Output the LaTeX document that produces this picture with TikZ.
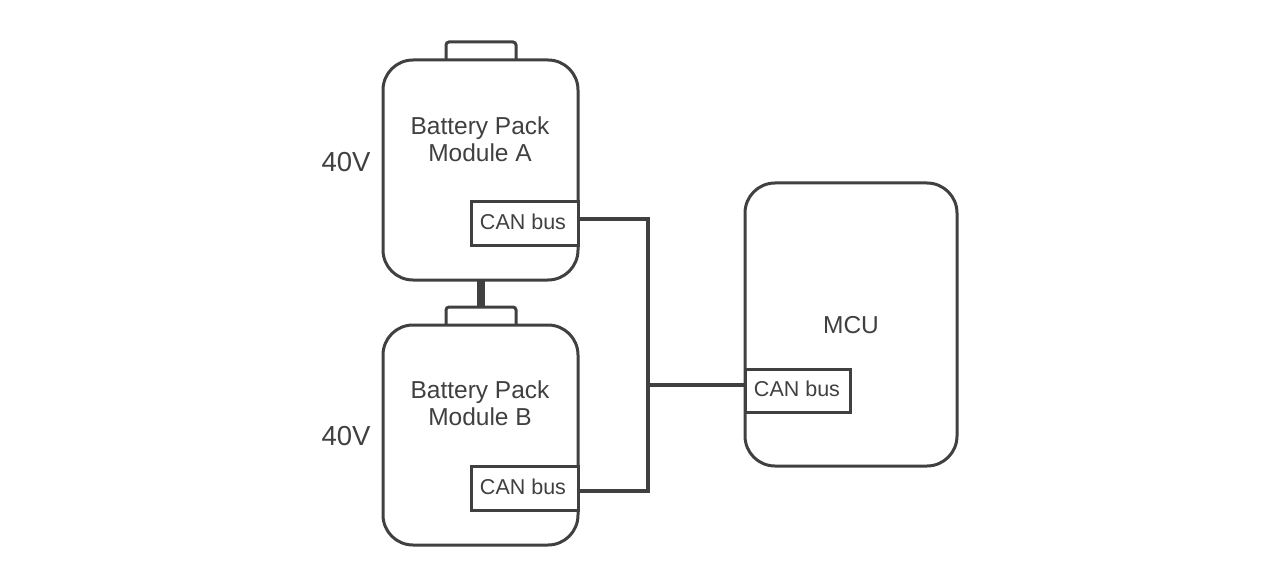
\documentclass[tikz,border=0pt]{standalone}
\usepackage{fontspec}
\setmainfont{Liberation Sans}
\definecolor{ink}{HTML}{404040}
\begin{document}
\begin{tikzpicture}[x=1pt,y=-1pt,
  line width=3pt, draw=ink, text=ink,
  body/.style={draw=ink, rounded corners=30pt, line width=3pt},
  term/.style={draw=ink, rounded corners=3pt, line width=3pt},
  canbox/.style={draw=ink, line width=3pt, fill=white},
  bus/.style={draw=ink, line width=3.6pt},
  lbl/.style={font=\fontsize{24.5}{27}\selectfont, align=center, text=ink},
  canlbl/.style={font=\fontsize{21.5}{24}\selectfont, text=ink},
  volt/.style={font=\fontsize{27.5}{30}\selectfont, text=ink}]
\useasboundingbox (0,0) rectangle (1284,588);
% Battery A
\draw[term] (446,60) -- (446,42) -- (516,42) -- (516,60);
\draw[body] (383,60) rectangle (578,280);
\node[lbl] (labA) at (480,139) {Battery Pack\\Module A};
\node[volt] (vA) at (346,162) {40V};
% Battery B
\draw[term] (446,325) -- (446,307) -- (516,307) -- (516,325);
\draw[body] (383,325) rectangle (578,545);
\node[lbl] (labB) at (480,403) {Battery Pack\\Module B};
\node[volt] (vB) at (346,436) {40V};
% link between packs
\coordinate (ab1) at (481,280);
\coordinate (ab2) at (481,307);
\draw[draw=ink, line width=8pt] (ab1) -- (ab2);
% CAN boxes
\draw[canbox] (471,201) rectangle (578,245);
\node[canlbl] (canA) at (523,222) {CAN bus};
\draw[canbox] (471,466) rectangle (578,510);
\node[canlbl] (canB) at (523,487) {CAN bus};
% MCU
\draw[body] (745,183) rectangle (957,466);
\node[lbl] (mcu) at (851,325) {MCU};
\draw[canbox] (745,369) rectangle (850,412);
\node[canlbl] (canM) at (797,389) {CAN bus};
% bus
\coordinate (pA) at (578,219);
\coordinate (pB) at (578,491);
\coordinate (pM) at (745,385);
\coordinate (j1) at (648,219);
\coordinate (j2) at (648,491);
\coordinate (j3) at (648,385);
\draw[bus] (pA) -- (j1) -- (j2) -- (pB);
\draw[bus] (j3) -- (pM);
\end{tikzpicture}
\end{document}
